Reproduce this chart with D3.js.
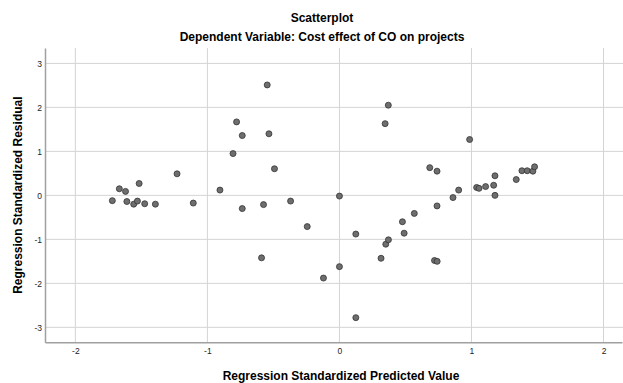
<!DOCTYPE html>
<html>
<head>
<meta charset="utf-8">
<script src="https://cdn.jsdelivr.net/npm/d3@7"></script>
<style>
  body { margin: 0; background: #fff; }
  svg { display: block; font-family: "Liberation Sans", Arial, sans-serif; }
</style>
</head>
<body>
<svg id="chart" width="623" height="383"></svg>
<script>
// Standardized predicted value (x) and standardized residual (y)
const predicted = [
  -1.72, -1.667, -1.62, -1.61, -1.558, -1.53, -1.517, -1.475, -1.394, -1.23,
  -1.107, -0.905, -0.806, -0.779, -0.736, -0.736, -0.59, -0.575, -0.547, -0.534,
  -0.492, -0.37, -0.244, -0.121, 0.0, 0.0, 0.124, 0.124, 0.315, 0.346,
  0.351, 0.37, 0.371, 0.477, 0.49, 0.567, 0.684, 0.72, 0.74, 0.739,
  0.739, 0.86, 0.903, 0.986, 1.039, 1.057, 1.107, 1.168, 1.178, 1.178,
  1.339, 1.382, 1.422, 1.465, 1.478
];
const residual = [
  -0.12, 0.15, 0.09, -0.14, -0.20, -0.13, 0.27, -0.19, -0.20, 0.49,
  -0.175, 0.12, 0.95, 1.67, 1.36, -0.30, -1.42, -0.21, 2.51, 1.40,
  0.605, -0.13, -0.71, -1.88, -0.016, -1.62, -0.88, -2.78, -1.43, 1.63,
  -1.11, 2.05, -1.01, -0.60, -0.86, -0.41, 0.63, -1.48, -1.50, 0.55,
  -0.24, -0.05, 0.12, 1.27, 0.18, 0.16, 0.20, 0.23, 0.445, 0.0,
  0.36, 0.56, 0.56, 0.55, 0.65
];
const xTicks = [-2, -1, 0, 1, 2];
const yTicks = [-3, -2, -1, 0, 1, 2, 3];

const title = "Scatterplot";
const subtitle = "Dependent Variable: Cost effect of CO on projects";
const xTitle = "Regression Standardized Predicted Value";
const yTitle = "Regression Standardized Residual";

const svg = d3.select("#chart");
const plot = { left: 45, right: 622, top: 48, bottom: 342.3 };

const x = d3.scaleLinear().domain([-2.23, 2.14]).range([plot.left, plot.right]);
const y = d3.scaleLinear().domain([-3.34, 3.35]).range([plot.bottom, plot.top]);

const fmt = d => String(d); // plain hyphen minus like the original

// grid lines
svg.append("g")
  .selectAll("line")
  .data(xTicks)
  .join("line")
  .attr("x1", d => x(d)).attr("x2", d => x(d))
  .attr("y1", plot.top).attr("y2", plot.bottom)
  .attr("stroke", "#d4d4d4").attr("stroke-width", 1);

svg.append("g")
  .selectAll("line")
  .data(yTicks)
  .join("line")
  .attr("x1", plot.left).attr("x2", plot.right + 1)
  .attr("y1", d => y(d)).attr("y2", d => y(d))
  .attr("stroke", "#d4d4d4").attr("stroke-width", 1);

// axes
svg.append("g")
  .attr("transform", `translate(0,${plot.bottom})`)
  .call(d3.axisBottom(x).tickValues(xTicks).tickSize(0).tickPadding(6).tickFormat(fmt))
  .call(g => g.select(".domain").attr("stroke", "#a0a0a0").attr("stroke-width", 1.5))
  .call(g => g.selectAll("text").attr("font-size", 8.5).attr("fill", "#222")
    .attr("font-family", "'Liberation Sans', Arial, sans-serif"));

svg.append("g")
  .attr("transform", `translate(${plot.left},0)`)
  .call(d3.axisLeft(y).tickValues(yTicks).tickSize(0).tickPadding(3).tickFormat(fmt))
  .call(g => g.select(".domain").attr("stroke", "#a0a0a0").attr("stroke-width", 1.5))
  .call(g => g.selectAll("text").attr("font-size", 8.5).attr("fill", "#222")
    .attr("font-family", "'Liberation Sans', Arial, sans-serif"));

// points
svg.append("g")
  .selectAll("circle")
  .data(predicted.map((p, i) => ({ p, r: residual[i] })))
  .join("circle")
  .attr("cx", d => x(d.p))
  .attr("cy", d => y(d.r))
  .attr("r", 3)
  .attr("fill", "#6e6e6e")
  .attr("stroke", "#333")
  .attr("stroke-width", 0.8);

// titles
svg.append("text")
  .attr("x", 322).attr("y", 22)
  .attr("text-anchor", "middle")
  .attr("font-size", 12).attr("font-weight", "bold")
  .text(title);

svg.append("text")
  .attr("x", 322).attr("y", 41)
  .attr("text-anchor", "middle")
  .attr("font-size", 12).attr("font-weight", "bold")
  .text(subtitle);

svg.append("text")
  .attr("x", 341).attr("y", 380)
  .attr("text-anchor", "middle")
  .attr("font-size", 12).attr("font-weight", "bold")
  .text(xTitle);

svg.append("text")
  .attr("transform", `translate(22,${(plot.top + plot.bottom) / 2}) rotate(-90)`)
  .attr("text-anchor", "middle")
  .attr("font-size", 12).attr("font-weight", "bold")
  .text(yTitle);
</script>
</body>
</html>
